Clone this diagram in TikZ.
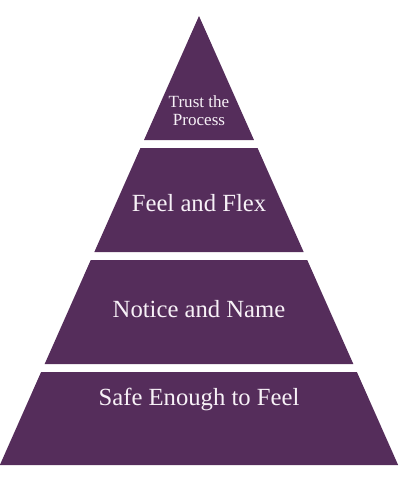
\documentclass[tikz,border=0pt]{standalone}
\usepackage{fontspec}
\setmainfont{Liberation Serif}
\usepackage{tikz}
\usetikzlibrary{positioning, calc}
\definecolor{Plum}{HTML}{552D5B}
\definecolor{Petal}{HTML}{F7F1F7}

\begin{document}
\begin{tikzpicture}[x=0.75pt, y=-0.75pt,
    tier/.style={fill=Plum, draw=none},
    tierlabel/.style={text=Petal, inner sep=0pt, anchor=base,
                      font=\fontsize{18.5}{22}\selectfont}]
    \useasboundingbox (0,0) rectangle (400,486);

    % Pyramid tiers (top edge, bottom edge)
    \foreach \t/\b in {16/140, 148/252, 260/364, 372/465} {
        \fill[tier] ({199-0.4435*(\t-16)}, \t) -- ({199+0.4435*(\t-16)}, \t)
            -- ({199+0.4435*(\b-16)}, \b) -- ({199-0.4435*(\b-16)}, \b) -- cycle;
    }

    % Tier labels
    \node[tierlabel, anchor=center, align=center,
          font=\fontsize{12.8}{13.5}\selectfont] (trust) at (199, 111) {Trust the\\Process};
    \node[tierlabel] (flex) at (199, 211) {Feel and Flex};
    \node[tierlabel] (notice) at (199, 317) {Notice and Name};
    \node[tierlabel] (safe) at (199, 405) {Safe Enough to Feel};
\end{tikzpicture}
\end{document}
